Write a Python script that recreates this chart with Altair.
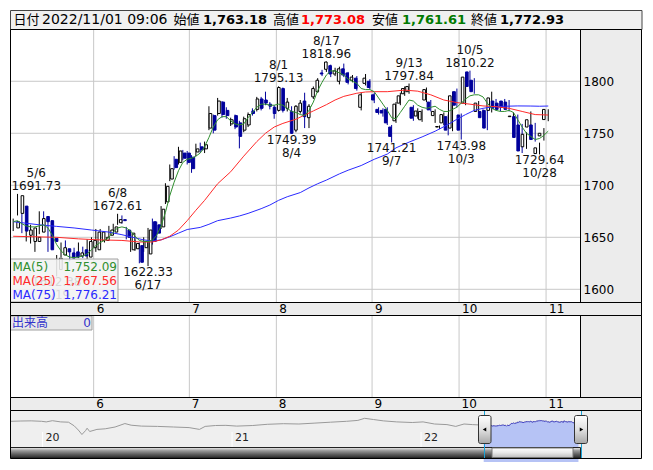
import altair as alt
import pandas as pd
import numpy as np

# ---------------- data ----------------
day_labels = ["5/2","5/6","5/9","5/10","5/11","5/12","5/13","5/16","5/17","5/18","5/19","5/20",
 "5/23","5/24","5/25","5/26","5/27","5/30","5/31",
 "6/1","6/2","6/3","6/6","6/7","6/8","6/9","6/10","6/13","6/14","6/15","6/16","6/17","6/20","6/21","6/22","6/23","6/24","6/27","6/28","6/29","6/30",
 "7/1","7/4","7/5","7/6","7/7","7/8","7/11","7/12","7/13","7/14","7/15","7/19","7/20","7/21","7/22","7/25","7/26","7/27","7/28","7/29",
 "8/1","8/2","8/3","8/4","8/5","8/8","8/9","8/10","8/12","8/15","8/16","8/17","8/18","8/19","8/22","8/23","8/24","8/25","8/26","8/29","8/30","8/31",
 "9/1","9/2","9/5","9/6","9/7","9/8","9/9","9/12","9/13","9/14","9/15","9/16","9/20","9/21","9/22","9/26","9/27","9/28","9/29","9/30",
 "10/3","10/4","10/5","10/6","10/7","10/11","10/12","10/13","10/14","10/17","10/18","10/19","10/20","10/21","10/24","10/25","10/26","10/27","10/28","10/31",
 "11/1"]

opens = [1659,1673,1680,1652,1646,1646,1655,1670,1666,1649,1619,1633,1639,1635,1636,1632,1638,1631,1640,
 1638,1647,1647,1652,1655,1664,1667,1657,1638,1639,1642,1640,1634,1665,1662,1660,1684,1706,1725,1722,1731,1731,
 1727,1732,1737,1735,1755,1767,1769,1780,1772,1759,1767,1760,1753,1758,1771.5,1773,1783,1782,1778,1775,
 1772,1793,1774,1771,1753,1771,1781,1765,1785,1790,1808,1811.5,1815,1807,1800,1812,1808,1801,1803,1775,1798,1800,
 1787,1773,1772,1773,1756,1762,1779,1788,1790,1775,1766.6,1763,1782,1780,1767,1756,1760,1766,1755,1790,
 1767.6,1779,1809,1801,1771,1771,1772,1772,1781,1779,1781,1780,1766,1766,1758,1737,1756,1758,1730.5,1747.5,
 1763.18]
highs = [1668,1691.73,1682,1660,1662,1652,1675,1675,1668,1652,1633,1645,1647,1637,1640,1645,1641,1648,1650,
 1658,1658,1654,1661,1663,1672.61,1671,1660,1657,1648,1645,1650,1659,1668,1665,1680,1702,1720,1728,1737,1734,1733,
 1729,1740,1741,1742,1776,1768,1784,1781,1775,1765,1768,1762,1766,1770,1774,1785,1785,1790,1780,1777,
 1795.13,1794,1784,1776,1777,1782,1789,1778,1795,1803,1811,1818.96,1816,1813,1814,1817,1809,1806,1805,1789,1807,1802,
 1789,1775,1774,1775,1758,1780,1789,1795,1797.84,1777,1774,1773,1794,1782,1773,1757.5,1770,1768,1790,1793,
 1769,1806,1810.22,1803,1781,1773,1774,1790,1783,1781,1783,1782,1770,1768,1759,1751,1771,1760,1741,1755,
 1773.08]
lows = [1656,1671,1654,1646,1644,1636,1653,1662,1636,1643,1612.38,1631,1634,1627,1629,1630,1630,1629,1636,
 1636,1645,1645,1650,1653,1662,1663,1648,1636,1637,1625,1636,1622.33,1643,1650,1658,1682,1704,1715,1720,1724,1720,
 1712,1728,1731,1731,1753,1750,1767,1765,1764,1757,1754,1735.5,1751,1756,1767,1771,1772,1777,1773,1764,
 1771,1770,1771,1749.39,1751,1769,1755,1755,1783,1789,1805,1809,1804,1805,1797,1804,1797,1799,1791,1772,1796,1792,
 1779,1768,1766,1758,1741.21,1760,1777,1786,1788,1762,1764,1761,1780,1771,1760,1754,1758,1748,1752,1775,
 1743.98,1777,1793,1788,1769,1763,1753,1770,1772,1771,1773,1771,1762,1745,1731,1735,1754,1742,1729.64,1743,
 1761.61]
closes = [1665,1690,1656,1657,1659,1650,1668,1665,1638,1646,1630,1640,1636,1630,1631,1635,1632,1646,1647,
 1655,1655,1650,1657,1660,1667,1666,1650,1654,1644,1626,1646,1657,1646,1654,1677,1699,1716,1717,1733,1726,1722,
 1716,1735,1734,1739,1769,1753,1781,1768,1767,1763,1756,1747,1764,1768,1769,1783,1774,1779,1776,1769,
 1794,1772,1780,1750,1776,1779,1766,1776,1793,1801,1807,1818.5,1807,1810,1812,1806,1799,1804,1793,1787,1803,1794,
 1782,1770,1769.5,1760,1747,1778,1786,1793,1795,1764.5,1771.4,1771,1792,1772.5,1771,1756.5,1768,1753,1786,1777,
 1753,1804,1795,1790,1779,1765,1755,1784,1774,1773,1775,1773,1766.5,1746,1733,1749,1763,1744,1736,1750,
 1772.93]

# moving averages (day index, value)
ma5_idx = list(range(0, 124))
ma5_val = [1665,1666,1663,1661,1660,1660,1661,1662,1659,1652,1643,1637,1633,1631,1630.5,1631,1632,1634,1638,
 1642,1645,1647,1650,1655,1659,1660,1659,1656,1651,1647,1646,1646,1647,1652,1661,1674,1690,1703,1714,1722,1725,
 1726,1728,1731,1737,1746,1756,1763,1766,1766,1762,1759,1758,1759,1765,1770,1775,1778,1778,1777,1777,
 1778,1777,1774,1771,1770,1768,1767,1772,1780,1791,1799,1806,1810,1810,1808,1806,1802,1800,1798,1793,1792,1792,
 1790,1784,1778,1772,1765,1764,1770,1776,1782,1781,1777,1775,1774,1775,1776,1773,1771,1771,1773,1775,
 1779,1783,1786,1787,1787,1785,1779,1774,1772,1771,1771,1772,1770,1763,1756,1750,1747,1744,1745,1748,
 1752.09]
ma25_idx = [0,5,10,15,20,25,29,32,34,36,38,40,42,44,47,50,53,56,58,60,62,65,67,69,72,74,76,79,81,83,86,90,93,96,99,102,105,108,111,114,117,120,123]
ma25_val = [1651,1650.5,1650,1648.5,1647.5,1647,1645.5,1645.5,1647.5,1651,1657,1666,1676,1685.5,1701.5,1713,1728,1742,1750,1756,
 1759.5,1763.5,1767.5,1771.5,1777.5,1782,1785.5,1788.5,1789.7,1790,1790,1791.5,1790.5,1787,1782,1779.5,1778,1776.3,1775.6,1774,1771,1768,1767.56]
ma75_idx = [0,3,6,10,14,18,22,25,28,30,32,34,36,38,40,43,45,47,50,52,54,57,59,61,63,66,68,70,72,75,77,80,83,86,88,91,94,97,100,102,104,106,108,110,113,116,119,121,123]
ma75_val = [1665,1663.5,1662,1660.5,1659,1657,1655,1652.5,1649.5,1647.5,1646.5,1647.5,1650.5,1654,1657.5,1659.5,1662.5,1666,1668.5,1670.5,
 1673,1677.5,1681,1685.5,1689,1693,1697.5,1701.5,1705,1711,1714.5,1719,1725,1730,1736,1741.5,1746.5,1752,1758.5,1763.5,
 1768,1772,1774,1775.3,1776,1776.3,1776.2,1776,1776.21]

ma_names = ["MA(5)", "MA(25)", "MA(75)"]
ma_last = [1752.09, 1767.56, 1776.21]
ma_colors = ["#2f8f2f", "#ff2a2a", "#2a2aff"]

ann_dates = ["5/6","5/19","6/8","6/17","8/1","8/4","8/17","9/7","9/13","10/3","10/5","10/28"]
ann_kinds = ["high","low","high","low","high","low","high","low","high","low","high","low"]

y_ticks = [1600, 1650, 1700, 1750, 1800]
month_first = ["6/1","7/1","8/1","9/1","10/3","11/1"]
month_names = ["6","7","8","9","10","11"]

quote_time = "2022/11/01 09:06"
quote_open, quote_high, quote_low, quote_close = 1763.18, 1773.08, 1761.61, 1772.93
volume_now = 0

nav_hist_dates = ["2019-11-01","2019-11-20","2019-12-10","2019-12-30","2020-01-08","2020-01-20","2020-02-05","2020-02-20",
 "2020-03-02","2020-03-10","2020-03-17","2020-03-24","2020-03-27","2020-04-01","2020-04-15","2020-05-01","2020-05-20",
 "2020-06-08","2020-06-20","2020-07-10","2020-08-10","2020-09-10","2020-10-10","2020-10-30","2020-11-10","2020-11-30",
 "2020-12-20","2021-01-10","2021-02-10","2021-03-10","2021-04-10","2021-05-10","2021-06-10","2021-07-10","2021-08-10",
 "2021-09-01","2021-09-14","2021-10-01","2021-10-20","2021-11-15","2021-12-15","2022-01-05","2022-01-27","2022-02-20",
 "2022-03-09","2022-03-25","2022-04-10","2022-04-28"]
nav_hist_vals = [1790,1800,1805,1790,1770,1810,1770,1760,1640,1500,1350,1480,1560,1450,1520,1540,1600,1715,1660,1630,
 1620,1600,1580,1520,1620,1650,1655,1630,1650,1690,1710,1700,1730,1760,1790,1820,1890,1850,1805,1770,1750,1770,1700,
 1680,1620,1700,1680,1665]
year_starts = ["2020-01-01", "2021-01-01", "2022-01-01"]
year_names = ["20", "21", "22"]

# ---------------- layout helpers ----------------
W, H = 569, 272
def PX(x):
    return x - 11
def PY(y):
    return y - 30

FONT = "DejaVu Sans"
JFONT = "Noto Sans CJK JP"
XS = alt.Scale(domain=[-0.5, 130.3], nice=False, zero=False)
YS = alt.Scale(domain=[1587.8, 1849.3], nice=False, zero=False)
NXS = alt.Scale(domain=[alt.DateTime(year=2019, month=11, date=1), alt.DateTime(year=2022, month=11, date=4)])
NYS = alt.Scale(domain=[1000, 2100], range=[PY(445), PY(412)], nice=False, zero=False)

one = pd.DataFrame({"k": [0]})

def rect(x1, y1, x2, y2, **kw):
    return alt.Chart(one).mark_rect(**kw).encode(
        x=alt.value(PX(x1)), x2=alt.value(PX(x2)), y=alt.value(PY(y1)), y2=alt.value(PY(y2)))

def txt(s, x, y, **kw):
    kw.setdefault("font", FONT)
    kw.setdefault("fontSize", 12)
    kw.setdefault("baseline", "middle")
    kw.setdefault("align", "left")
    return alt.Chart(one).mark_text(text=s, **kw).encode(x=alt.value(PX(x)), y=alt.value(PY(y)))

def grad(stops):
    return alt.Gradient(gradient="linear", x1=0, x2=0, y1=0, y2=1,
                        stops=[alt.GradientStop(color=c, offset=o) for o, c in stops])

# ---------------- tables ----------------
n = len(day_labels)
cd = pd.DataFrame({"i": list(range(n)), "d": day_labels, "o": opens, "h": highs, "l": lows, "c": closes})
cd["dir"] = np.where(cd["c"] >= cd["o"], "up", "down")
cd["t"] = pd.to_datetime(["2022/" + d for d in day_labels], format="%Y/%m/%d")

gx = [day_labels.index(d) - 0.5 for d in month_first]
gdf = pd.DataFrame({"g": gx, "m": month_names})
label_expr = "[" + ",".join("'%s'" % m for m in month_names) + "][indexof([" + ",".join(str(g) for g in gx) + "], datum.value)]"

ann_rows = []
for d, k in zip(ann_dates, ann_kinds):
    i = day_labels.index(d)
    p = highs[i] if k == "high" else lows[i]
    ann_rows.append({"i": i, "lx": max(i, 5.3), "p": p, "v": "%.2f" % p, "d": d, "k": k})
ann = pd.DataFrame(ann_rows)

nav = pd.concat([pd.DataFrame({"t": pd.to_datetime(nav_hist_dates), "v": nav_hist_vals}),
                 pd.DataFrame({"t": cd["t"], "v": closes})], ignore_index=True)
ydf = pd.DataFrame({"t": pd.to_datetime(year_starts), "n": year_names})

XI = alt.X("i:Q", scale=XS, axis=None)

layers = []
# panels backgrounds
layers.append(rect(10.5, 10.5, 642, 29.5, fill="#f0f0f0", stroke="#444", strokeWidth=1))
layers.append(rect(580.5, 29.5, 641.5, 410.5, fill="#ececec"))
layers.append(rect(10.5, 302.5, 641.5, 315.5, fill="#ececec"))
layers.append(rect(10.5, 397.5, 641.5, 410.5, fill="#ececec"))
layers.append(rect(10.5, 410.5, 580.5, 447.5, fill="#efefef"))
layers.append(rect(580.5, 410.5, 641.5, 458.5, fill="#ececec"))

# grid
hgrid = alt.Chart(pd.DataFrame({"v": y_ticks})).mark_rule(color="#c8c8c8", strokeWidth=1).encode(
    y=alt.Y("v:Q", scale=YS, axis=alt.Axis(orient="right", values=y_ticks, grid=False, domain=False, ticks=False,
            tickSize=0, labelPadding=3, labelFont=FONT, labelFontSize=12, labelColor="#000", zindex=1,
            format="d", title=None)),
    x=alt.value(0), x2=alt.value(W))
layers.append(hgrid)
vgrid = alt.Chart(gdf).mark_rule(color="#c8c8c8", strokeWidth=1).encode(
    x=alt.X("g:Q", scale=XS, axis=alt.Axis(orient="bottom", values=gx, labelExpr=label_expr, grid=False,
            domain=False, ticks=False, tickSize=0, labelPadding=6, labelAlign="left", labelBaseline="middle",
            labelOffset=2.5, labelFont=FONT, labelFontSize=12, labelColor="#000", zindex=1, title=None)),
    y=alt.value(0), y2=alt.value(H))
layers.append(vgrid)
vgrid2 = alt.Chart(gdf).mark_rule(color="#c8c8c8", strokeWidth=1).encode(
    x=alt.X("g:Q", scale=XS, axis=None), y=alt.value(PY(316)), y2=alt.value(PY(397)))
layers.append(vgrid2)
strip2 = alt.Chart(gdf).mark_text(font=FONT, fontSize=12, align="left", baseline="middle", dx=2.5, color="#000").encode(
    x=alt.X("g:Q", scale=XS, axis=None), y=alt.value(PY(403.5)), text="m:N")
layers.append(strip2)

# candles
wick = alt.Chart(cd).mark_rule(strokeWidth=1).encode(
    x=XI, y=alt.Y("l:Q", scale=YS, axis=None), y2="h:Q",
    color=alt.Color("dir:N", scale=alt.Scale(domain=["up", "down"], range=["#000000", "#00009c"]), legend=None))
body = alt.Chart(cd).mark_bar(size=2.6, strokeWidth=1).encode(
    x=XI, y=alt.Y("o:Q", scale=YS, axis=None), y2="c:Q",
    fill=alt.Fill("dir:N", scale=alt.Scale(domain=["up", "down"], range=["#ffffff", "#00009c"]), legend=None),
    stroke=alt.Stroke("dir:N", scale=alt.Scale(domain=["up", "down"], range=["#000000", "#00009c"]), legend=None))
layers += [wick, body]

# moving averages
for idx, val, col in [(ma75_idx, ma75_val, ma_colors[2]), (ma25_idx, ma25_val, ma_colors[1]), (ma5_idx, ma5_val, ma_colors[0])]:
    layers.append(alt.Chart(pd.DataFrame({"i": idx, "v": val})).mark_line(color=col, strokeWidth=1).encode(
        x=XI, y=alt.Y("v:Q", scale=YS, axis=None)))

# annotations
AX = alt.X("lx:Q", scale=XS, axis=None)
AY = alt.Y("p:Q", scale=YS, axis=None)
hi = alt.Chart(ann).transform_filter("datum.k == 'high'")
lo = alt.Chart(ann).transform_filter("datum.k == 'low'")
tk = dict(font=FONT, fontSize=12, color="#111", baseline="middle")
layers.append(hi.mark_text(dy=-8, **tk).encode(x=AX, y=AY, text="v:N"))
layers.append(hi.mark_text(dy=-21, **tk).encode(x=AX, y=AY, text="d:N"))
layers.append(lo.mark_text(dy=6, **tk).encode(x=AX, y=AY, text="v:N"))
layers.append(lo.mark_text(dy=19, **tk).encode(x=AX, y=AY, text="d:N"))

# MA legend
layers.append(rect(10.5, 259, 118, 302, fill="#f2f2f2", fillOpacity=0.88, stroke="#a0a0a0", strokeWidth=1))
for k, (nm, lv, col) in enumerate(zip(ma_names, ma_last, ma_colors)):
    yy = 267 + 14 * k
    layers.append(txt(nm, 12.5, yy, color=col, fontSize=12))
    layers.append(txt("{:,.2f}".format(lv), 117, yy, color=col, align="right", fontSize=12))

# volume legend
layers.append(rect(10.5, 316, 92, 330, fill="#e8e8e8", stroke="#a0a0a0", strokeWidth=1))
layers.append(txt("出来高", 12, 323, font=JFONT, color="#3333cc", fontSize=12))
layers.append(txt(str(volume_now), 91, 323, color="#3333cc", align="right"))

# header
hx = [(13.5, "日付", JFONT, "normal", "#000", 13), (42, quote_time, FONT, "normal", "#000", 14),
      (173.5, "始値", JFONT, "normal", "#000", 13), (203, "{:,.2f}".format(quote_open), FONT, "bold", "#000", 13),
      (273, "高値", JFONT, "normal", "#000", 13), (301, "{:,.2f}".format(quote_high), FONT, "bold", "#ff0000", 13),
      (372, "安値", JFONT, "normal", "#000", 13), (402, "{:,.2f}".format(quote_low), FONT, "bold", "#007a00", 13),
      (471, "終値", JFONT, "normal", "#000", 13), (500, "{:,.2f}".format(quote_close), FONT, "bold", "#000", 13)]
for x, s, f, w, c, fs in hx:
    layers.append(txt(s, x, 20, font=f, fontWeight=w, color=c, fontSize=fs))

# navigator
NX = alt.X("t:T", scale=NXS, axis=None)
NY = alt.Y("v:Q", scale=NYS, axis=None)
layers.append(alt.Chart(nav).mark_line(color="#9a9a9a", strokeWidth=1).encode(x=NX, y=NY))
sel = cd[["t", "c"]].rename(columns={"c": "v"})
layers.append(alt.Chart(sel).mark_area(color="#b6c3f5").encode(x=NX, y=NY, y2=alt.value(PY(447.5))))
layers.append(alt.Chart(sel).mark_line(color="#4646c8", strokeWidth=1).encode(x=NX, y=NY))
layers.append(alt.Chart(ydf).mark_text(font=FONT, fontSize=11, align="left", baseline="middle", dx=3, color="#222").encode(
    x=NX, y=alt.value(PY(438)), text="n:N"))
layers.append(alt.Chart(ydf).mark_rule(color="#ffffff", strokeWidth=1).encode(
    x=NX, y=alt.value(PY(432)), y2=alt.value(PY(447))))

# scrollbar
layers.append(rect(10.5, 447.5, 580.5, 458, fill=grad([(0, "#f0f0f0"), (0.3, "#9a9a9a"), (0.7, "#555555"), (1, "#2a2a2a")]), stroke="#222", strokeWidth=1))
layers.append(rect(492, 448, 573, 457.5, fill=grad([(0, "#ffffff"), (0.5, "#e8e8e8"), (1, "#bdbdbd")]), stroke="#777", strokeWidth=1))

# selection lines & handles
layers.append(rect(484, 410.5, 485, 458, fill="#1aa3d8"))
layers.append(rect(581, 410.5, 582, 458, fill="#1aa3d8"))
hg = grad([(0, "#ffffff"), (0.5, "#e0e0e0"), (1, "#a8a8a8")])
layers.append(rect(478.5, 415.5, 491, 443.5, fill=hg, stroke="#333", strokeWidth=1, cornerRadius=2))
layers.append(rect(574.5, 415.5, 587.5, 443.5, fill=hg, stroke="#333", strokeWidth=1, cornerRadius=2))
layers.append(alt.Chart(one).mark_point(shape="triangle-left", filled=True, color="#000", size=16, opacity=1).encode(
    x=alt.value(PX(484.5)), y=alt.value(PY(429.5))))
layers.append(alt.Chart(one).mark_point(shape="triangle-right", filled=True, color="#000", size=16, opacity=1).encode(
    x=alt.value(PX(581.5)), y=alt.value(PY(429.5))))

# borders
B = dict(fillOpacity=0, stroke="#000", strokeWidth=1)
layers.append(rect(10.5, 29.5, 580.5, 302.5, **B))
layers.append(rect(580.5, 29.5, 641.5, 302.5, **B))
layers.append(rect(10.5, 302.5, 641.5, 315.5, **B))
layers.append(rect(10.5, 315.5, 580.5, 397.5, **B))
layers.append(rect(580.5, 315.5, 641.5, 397.5, **B))
layers.append(rect(10.5, 397.5, 641.5, 410.5, **B))
layers.append(rect(10.5, 410.5, 641.5, 458.5, **B))

chart = alt.layer(*layers).resolve_scale(x="independent", y="independent").properties(
    width=W, height=H,
    padding={"left": 3, "top": 22, "right": 65, "bottom": 160},
    autosize=alt.AutoSizeParams(type="none"),
    background="white",
).configure_view(stroke=None)

chart.save("out.html", embed_options={"renderer": "svg", "actions": False})
